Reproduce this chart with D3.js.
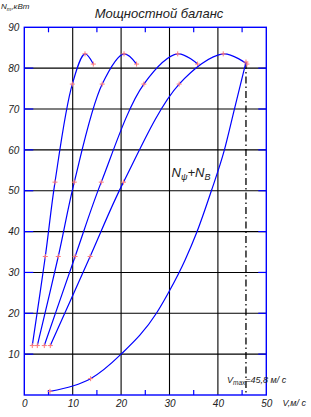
<!DOCTYPE html>
<html>
<head>
<meta charset="utf-8">
<script src="https://cdn.jsdelivr.net/npm/d3@7"></script>
<style>
  body { margin: 0; background: #fff; }
  text { font-family: "Liberation Sans", Arial, sans-serif; font-style: italic; fill: #222; }
</style>
</head>
<body>
<div id="chart"></div>
<script>
// Traction power per gear (same engine points, different speeds)
var gearPower = [12.1, 33.9, 52.1, 76.1, 83.5, 81.0];
var gear1Speed = [1.65, 4.34, 6.34, 9.92, 12.54, 14.26];
var gear2Speed = [2.69, 7.02, 10.33, 16.1, 20.6, 23.2];
var gear3Speed = [4.13, 10.5, 15.9, 24.7, 31.7, 35.8];
var gear4Speed = [5.37, 13.6, 20.5, 32.0, 41.1, 46.0];

// Resistance power N_psi + N_B
var resistSpeed = [5.3, 10, 13.7, 20, 27.3, 30, 33.2, 35.6, 38.6, 41.3, 43.4, 45.8];
var resistPower = [0.9, 2.2, 4.0, 10.0, 20.0, 25.5, 33.0, 39.7, 49.8, 59.8, 69.9, 81.5];
var resistMarks = [0, 2, 11];

var vMax = 45.8;
var xTicks = [0, 10, 20, 30, 40, 50];
var xMinor = [5, 15, 25, 35, 45];
var yTicks = [10, 20, 30, 40, 50, 60, 70, 80, 90];

var width = 311, height = 417;

var svg = d3.select("#chart").append("svg")
    .attr("width", width)
    .attr("height", height);

var x = d3.scaleLinear().domain([0, 50]).range([24.3, 266.3]);
var y = d3.scaleLinear().domain([0, 90]).range([395, 27.3]);

// grid
svg.append("g").selectAll("line").data(xTicks.slice(1, 5)).enter().append("line")
    .attr("x1", function(d) { return x(d); }).attr("x2", function(d) { return x(d); })
    .attr("y1", y(0)).attr("y2", y(90))
    .attr("stroke", "#000").attr("stroke-width", 1.1);
svg.append("g").selectAll("line").data(yTicks.slice(0, 8)).enter().append("line")
    .attr("x1", x(0)).attr("x2", x(50))
    .attr("y1", function(d) { return y(d); }).attr("y2", function(d) { return y(d); })
    .attr("stroke", "#000").attr("stroke-width", 1.1);

// blue tick marks over the grid ends
var ticks = svg.append("g").attr("stroke", "#0000ff").attr("stroke-width", 1.2);
yTicks.slice(0, 8).forEach(function(d) {
    ticks.append("line").attr("x1", x(0)).attr("x2", x(0) + 9).attr("y1", y(d)).attr("y2", y(d));
    ticks.append("line").attr("x1", x(50) - 8).attr("x2", x(50)).attr("y1", y(d)).attr("y2", y(d));
});
xMinor.forEach(function(d) {
    ticks.append("line").attr("x1", x(d)).attr("x2", x(d)).attr("y1", y(90)).attr("y2", y(90) + 5);
    ticks.append("line").attr("x1", x(d)).attr("x2", x(d)).attr("y1", y(0)).attr("y2", y(0) - 5);
});

// frame
svg.append("rect")
    .attr("x", x(0)).attr("y", y(90))
    .attr("width", x(50) - x(0)).attr("height", y(0) - y(90))
    .attr("fill", "none").attr("stroke", "#0000ff").attr("stroke-width", 1.4);

// axes labels (no lines)
var xAxis = d3.axisBottom(x).tickValues(xTicks).tickSize(0).tickPadding(5);
var yAxis = d3.axisLeft(y).tickValues(yTicks).tickSize(0).tickPadding(5);
var gx = svg.append("g").attr("transform", "translate(0," + y(0) + ")").call(xAxis);
var gy = svg.append("g").attr("transform", "translate(" + x(0) + ",0)").call(yAxis);
[gx, gy].forEach(function(g) {
    g.select(".domain").remove();
    g.selectAll("text").style("font-size", "10px").style("font-family", null).attr("fill", "#222");
});

// vmax dash-dot line
svg.append("line")
    .attr("x1", x(vMax)).attr("x2", x(vMax))
    .attr("y1", y(resistPower[resistPower.length - 1])).attr("y2", y(0))
    .attr("stroke", "#000").attr("stroke-width", 1.3)
    .attr("stroke-dasharray", "7,3,1.5,3");

var line = d3.line()
    .x(function(d) { return x(d[0]); })
    .y(function(d) { return y(d[1]); })
    .curve(d3.curveCatmullRom.alpha(0.5));

function plus(g, pts) {
    g.selectAll("path.mk").data(pts).enter().append("path")
        .attr("class", "mk")
        .attr("d", function(d) {
            var px = x(d[0]), py = y(d[1]);
            return "M" + (px - 2.5) + "," + py + "H" + (px + 2.5) + "M" + px + "," + (py - 2.5) + "V" + (py + 2.5);
        })
        .attr("stroke", "#ff7a7a").attr("stroke-width", 1);
}

[gear1Speed, gear2Speed, gear3Speed, gear4Speed].forEach(function(speeds) {
    var pts = speeds.map(function(v, i) { return [v, gearPower[i]]; });
    var g = svg.append("g");
    g.append("path").attr("d", line(pts))
        .attr("fill", "none").attr("stroke", "#0000ff").attr("stroke-width", 1.2);
    plus(g, pts);
});

var rPts = resistSpeed.map(function(v, i) { return [v, resistPower[i]]; });
var rg = svg.append("g");
rg.append("path").attr("d", d3.line()
        .x(function(d) { return x(d[0]); })
        .y(function(d) { return y(d[1]); })
        .curve(d3.curveMonotoneX)(rPts))
    .attr("fill", "none").attr("stroke", "#0000ff").attr("stroke-width", 1.2);
plus(rg, resistMarks.map(function(i) { return rPts[i]; }));

// texts
svg.append("text").attr("x", 159).attr("y", 17.5).attr("text-anchor", "middle")
    .style("font-size", "13px").text("Мощностной  баланс");

var yl = svg.append("text").attr("x", 1).attr("y", 9).style("font-size", "8px");
yl.append("tspan").text("N");
yl.append("tspan").attr("dy", 2).style("font-size", "5.5px").text("т");
yl.append("tspan").attr("dy", -2).text(",кВт");

svg.append("text").attr("x", 282.5).attr("y", 406).style("font-size", "9px").text("V,м/ с");

var vl = svg.append("text").attr("x", 227).attr("y", 383).style("font-size", "9px");
vl.append("tspan").text("V");
vl.append("tspan").attr("dy", 2).style("font-size", "6.5px").text("max");
vl.append("tspan").attr("dy", -2).text("=45,8 м/ с");

var nl = svg.append("text").attr("x", 171.5).attr("y", 176.5).style("font-size", "13px");
nl.append("tspan").text("N");
nl.append("tspan").attr("dy", 3).style("font-size", "9px").text("ψ");
nl.append("tspan").attr("dy", -3).text("+N");
nl.append("tspan").attr("dy", 3).style("font-size", "9px").text("B");
</script>
</body>
</html>
